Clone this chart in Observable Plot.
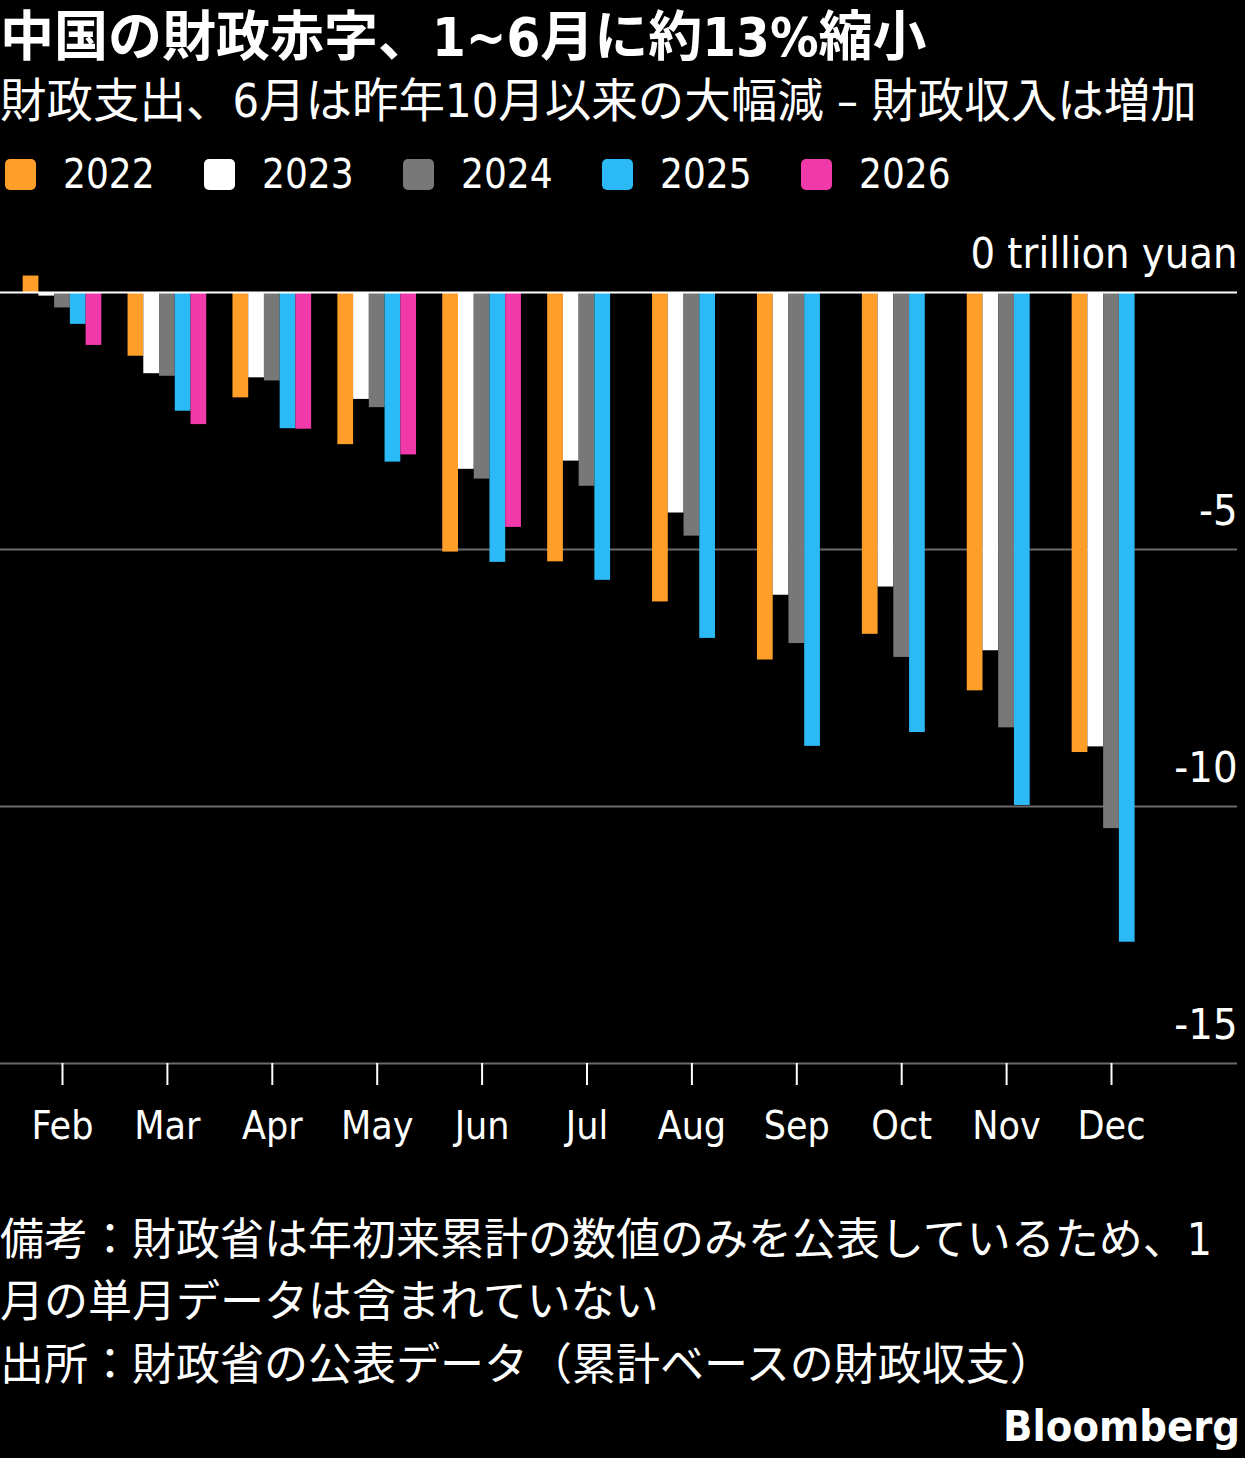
<!DOCTYPE html>
<html>
<head>
<meta charset="utf-8">
<script src="https://cdn.jsdelivr.net/npm/d3@7"></script>
<script src="https://cdn.jsdelivr.net/npm/@observablehq/plot@0.6"></script>
<style>
  html, body { margin: 0; padding: 0; background: #000; }
  body {
    width: 1245px; height: 1458px; position: relative; overflow: hidden;
    color: #fff;
    font-family: "DejaVu Sans Condensed", "Noto Sans CJK JP", sans-serif;
  }
  .abs { position: absolute; left: 0; white-space: nowrap; line-height: 1; }
  #title { top: 11px; font-size: 54px; font-weight: bold; }
  #subtitle { top: 78px; font-size: 46.5px; }
  #legend { top: 154px; left: 5px; display: flex; font-size: 40px; }
  .item { width: 199px; display: flex; align-items: center; }
  .sw { width: 31px; height: 31px; border-radius: 5px; margin-right: 27px; }
  #chart { position: absolute; left: 0; top: 220px; }
  .note { font-size: 44px; }
  #brand { top: 1405px; left: auto; right: 5px; font-size: 43px; font-weight: bold; }
</style>
</head>
<body>
<div id="title" class="abs">中国の財政赤字、1~6月に約13%縮小</div>
<div id="subtitle" class="abs">財政支出、6月は昨年10月以来の大幅減 – 財政収入は増加</div>
<div id="legend" class="abs"></div>
<div id="chart"></div>
<div class="abs note" style="top:1218px">備考：財政省は年初来累計の数値のみを公表しているため、1</div>
<div class="abs note" style="top:1280px">月の単月データは含まれていない</div>
<div class="abs note" style="top:1343px">出所：財政省の公表データ（累計ベースの財政収支）</div>
<div id="brand" class="abs">Bloomberg</div>
<script>
// Cumulative fiscal balance by month, trillion yuan
const months = ["Feb", "Mar", "Apr", "May", "Jun", "Jul", "Aug", "Sep", "Oct", "Nov", "Dec"];
const years = ["2022", "2023", "2024", "2025", "2026"];
const yearColors = ["#ff9f2a", "#ffffff", "#787878", "#2bbaf6", "#f03aaa"];

const bal2022 = [0.32, -1.24, -2.05, -2.96, -5.05, -5.24, -6.02, -7.15, -6.65, -7.75, -8.95];
const bal2023 = [-0.07, -1.58, -1.66, -2.08, -3.44, -3.28, -4.29, -5.89, -5.73, -6.97, -8.84];
const bal2024 = [-0.30, -1.63, -1.72, -2.24, -3.63, -3.77, -4.74, -6.83, -7.10, -8.47, -10.43];
const bal2025 = [-0.62, -2.31, -2.65, -3.30, -5.25, -5.60, -6.73, -8.83, -8.56, -9.98, -12.64];
const bal2026 = [-1.03, -2.57, -2.66, -3.16, -4.57];

const yTicks = [0, -5, -10, -15];

const series = [bal2022, bal2023, bal2024, bal2025, bal2026];
const rows = series.flatMap((vals, yi) =>
  vals.map((value, mi) => ({month: months[mi], mi, year: years[yi], yi, value}))
);

// Legend
const legend = document.getElementById("legend");
years.forEach((y, i) => {
  const item = document.createElement("div");
  item.className = "item";
  const sw = document.createElement("div");
  sw.className = "sw";
  sw.style.background = yearColors[i];
  const label = document.createElement("span");
  label.textContent = y;
  item.append(sw, label);
  legend.append(item);
});

// Each month's group of bars occupies 0.75 of the month step
const barW = 0.75 / years.length;
const half = years.length / 2;

const chart = Plot.plot({
  width: 1245,
  height: 940,
  marginLeft: 0,
  marginRight: 8,
  marginTop: 72,
  marginBottom: 97,
  style: {
    background: "transparent",
    color: "#fff",
    fontFamily: '"DejaVu Sans Condensed", "Noto Sans CJK JP", sans-serif'
  },
  x: {type: "linear", domain: [0, months.length - 1], range: [62, 1111]},
  y: {domain: [-15, 0], range: [843, 72]},
  color: {domain: years, range: yearColors},
  marks: [
    Plot.ruleY(yTicks.filter((d) => d !== 0), {stroke: "#6a6a6a", strokeWidth: 2}),
    Plot.rect(rows, {
      x1: (d) => d.mi + (d.yi - half) * barW,
      x2: (d) => d.mi + (d.yi - half + 1) * barW,
      y1: 0,
      y2: "value",
      fill: "year",
      inset: 0
    }),
    Plot.ruleY([0], {stroke: "#fff", strokeWidth: 2}),
    Plot.axisX({
      ticks: months.map((_, i) => i),
      tickFormat: (i) => months[i],
      tickSize: 22,
      tickPadding: 26,
      strokeWidth: 2,
      fontSize: 39,
      label: null
    }),
    Plot.axisY({
      anchor: "right",
      ticks: yTicks,
      tickFormat: (d) => (d === 0 ? "0 trillion yuan" : `${d}`),
      tickSize: 0,
      tickPadding: 0,
      textAnchor: "end",
      dx: 0,
      dy: -38,
      fontSize: 43,
      label: null
    })
  ]
});
document.getElementById("chart").append(chart);
</script>
</body>
</html>
